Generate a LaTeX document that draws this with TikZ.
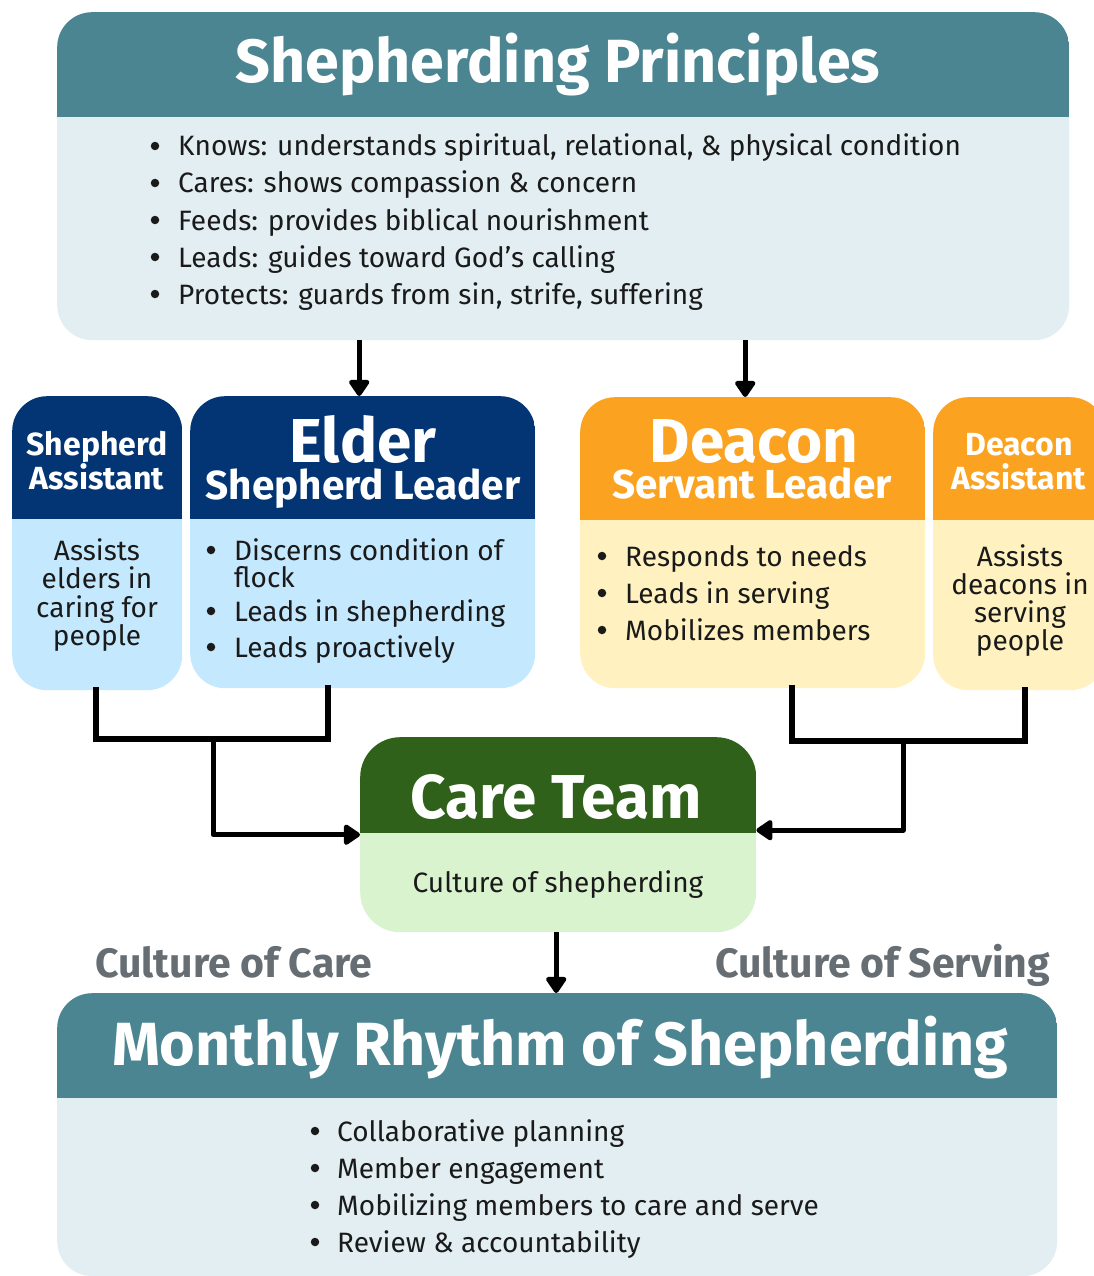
\documentclass[tikz,border=0pt]{standalone}
\usepackage{fontspec}
\setmainfont{Fira Sans}
\usetikzlibrary{arrows.meta,calc}
\definecolor{tealh}{HTML}{4A8591}
\definecolor{tealb}{HTML}{E2EEF2}
\definecolor{navyh}{HTML}{033574}
\definecolor{blueb}{HTML}{C4E8FD}
\definecolor{orangeh}{HTML}{FBA321}
\definecolor{creamb}{HTML}{FFF2C0}
\definecolor{greenh}{HTML}{2F611A}
\definecolor{greenb}{HTML}{D9F3CF}
\definecolor{grayt}{HTML}{666E73}
\definecolor{ink}{HTML}{1A1A1A}
\tikzset{
  box/.style={rounded corners=35pt, inner sep=0pt, anchor=north west, draw=none},
  hdr/.style 2 args={path picture={\fill[#1, sharp corners] (path picture bounding box.north west) rectangle ([yshift=-#2pt]path picture bounding box.north east);}},
  bigtitle/.style={font=\fontsize{61}{66}\selectfont\bfseries, text=white, inner sep=0pt, anchor=base},
  midtitle/.style={font=\fontsize{62}{66}\selectfont\bfseries, text=white, inner sep=0pt, anchor=base, text depth=0pt},
  subtitle/.style={font=\fontsize{40.5}{44}\selectfont\bfseries, text=white, inner sep=0pt, anchor=base, text height=28pt},
  smalltitle/.style={font=\fontsize{32}{36}\selectfont\bfseries, text=white, inner sep=0pt, anchor=base},
  body/.style={font=\fontsize{28}{30}\selectfont, text=ink, inner sep=0pt, anchor=base west},
  cbody/.style={font=\fontsize{28}{30}\selectfont, text=ink, inner sep=0pt, anchor=base},
  bul/.style={circle, fill=ink, inner sep=0pt, minimum size=8.5pt},
  culture/.style={font=\fontsize{41}{44}\selectfont\bfseries, text=grayt, inner sep=0pt, anchor=base west},
  arr/.style={line width=5pt, -{Triangle[width=23pt,length=18pt,round]}, line join=round},
  bar/.style={line width=6.5pt, line cap=rect},
}
\begin{document}
\begin{tikzpicture}[x=1pt,y=-1pt]
\useasboundingbox (0,0) rectangle (1094,1276);
% boxes
\node[box, minimum width=1012pt, minimum height=328pt, fill=tealb, hdr={tealh}{105}] (top) at (57,12) {};
\node[box, minimum width=170pt, minimum height=294pt, fill=blueb, hdr={navyh}{123}] (sa) at (12,396) {};
\node[box, minimum width=345pt, minimum height=292pt, fill=blueb, hdr={navyh}{123}] (el) at (190,396) {};
\node[box, minimum width=345pt, minimum height=291pt, fill=creamb, hdr={orangeh}{123}] (dc) at (580,397) {};
\node[box, minimum width=172pt, minimum height=293pt, fill=creamb, hdr={orangeh}{123}] (da) at (933,397) {};
\node[box, rounded corners=40pt, minimum width=396pt, minimum height=195pt, fill=greenb, hdr={greenh}{96}] (ct) at (360,737) {};
\node[box, minimum width=1000pt, minimum height=283pt, fill=tealb, hdr={tealh}{105}] (bt) at (57,993) {};

% top texts
\node[bigtitle] (t1) at (558,83) {Shepherding Principles};
\node[bul] (t1b1) at (155,146) {};
\node[body] (t1l1) at (178,156) {Knows: understands spiritual, relational, \& physical condition};
\node[bul] (t1b2) at (155,183) {};
\node[body] (t1l2) at (178,193) {Cares: shows compassion \& concern};
\node[bul] (t1b3) at (155,220) {};
\node[body] (t1l3) at (178,230) {Feeds: provides biblical nourishment};
\node[bul] (t1b4) at (155,257) {};
\node[body] (t1l4) at (178,267) {Leads: guides toward God’s calling};
\node[bul] (t1b5) at (155,294) {};
\node[body] (t1l5) at (178,304) {Protects: guards from sin, strife, suffering};

% shepherd assistant
\node[smalltitle] (sat1) at (97,455) {Shepherd};
\node[smalltitle] (sat2) at (97,489) {Assistant};
\node[cbody] (sab1) at (97,560) {Assists};
\node[cbody] (sab2) at (97,588) {elders in};
\node[cbody] (sab3) at (97,617) {caring for};
\node[cbody] (sab4) at (97,645) {people};

% elder
\node[midtitle] (elt1) at (363,462) {Elder};
\node[subtitle] (elt2) at (363,499) {Shepherd Leader};
\node[bul] (elb1) at (211,550) {};
\node[body] (ell1) at (234,560) {Discerns condition of};
\node[body] (ell1b) at (234,587) {flock};
\node[bul] (elb2) at (211,611) {};
\node[body] (ell2) at (234,621) {Leads in shepherding};
\node[bul] (elb3) at (211,647) {};
\node[body] (ell3) at (234,657) {Leads proactively};

% deacon
\node[midtitle] (dct1) at (754,462) {Deacon};
\node[subtitle] (dct2) at (752,498) {Servant Leader};
\node[bul] (dcb1) at (602,556) {};
\node[body] (dcl1) at (625,566) {Responds to needs};
\node[bul] (dcb2) at (602,593) {};
\node[body] (dcl2) at (625,603) {Leads in serving};
\node[bul] (dcb3) at (602,630) {};
\node[body] (dcl3) at (625,640) {Mobilizes members};

% deacon assistant
\node[smalltitle] (dat1) at (1019,455) {Deacon};
\node[smalltitle] (dat2) at (1019,489) {Assistant};
\node[cbody] (dab1) at (1020,566) {Assists};
\node[cbody] (dab2) at (1020,594) {deacons in};
\node[cbody] (dab3) at (1020,622) {serving};
\node[cbody] (dab4) at (1020,650) {people};

% care team
\node[midtitle] (ctt) at (556,818) {Care Team};
\node[cbody] (ctb) at (558,892) {Culture of shepherding};

% cultures
\node[culture] (coc) at (95,977) {Culture of Care};
\node[culture] (cos) at (715,977) {Culture of Serving};

% bottom
\node[bigtitle] (bt1) at (560,1065) {Monthly Rhythm of Shepherding};
\node[bul] (btb1) at (315,1131) {};
\node[body] (btl1) at (337,1141) {Collaborative planning};
\node[bul] (btb2) at (315,1168) {};
\node[body] (btl2) at (337,1178) {Member engagement};
\node[bul] (btb3) at (315,1205) {};
\node[body] (btl3) at (337,1215) {Mobilizing members to care and serve};
\node[bul] (btb4) at (315,1242) {};
\node[body] (btl4) at (337,1252) {Review \& accountability};

% connectors
\coordinate (saB) at (96,690);
\coordinate (elB) at (328,688);
\coordinate (jl) at (213,739);
\coordinate (dcB) at (792,688);
\coordinate (daB) at (1025,690);
\coordinate (jr) at (903,741);
\draw[arr] ([xshift=-3.5pt]el.north |- top.south) -- ([xshift=-3.5pt]el.north);
\draw[arr] ([xshift=-7.5pt]dc.north |- top.south) -- ([xshift=-7.5pt]dc.north);
\draw[bar] (saB) |- (jl) -| (elB);
\draw[bar] (dcB) |- (jr) -| (daB);
\draw[arr] (jl) |- (ct.west);
\draw[arr] (jr) |- ([yshift=4.5pt]ct.east);
\draw[arr] ([xshift=-2pt]ct.south) -- ([xshift=-2pt]ct.south |- bt.north);
\end{tikzpicture}
\end{document}
